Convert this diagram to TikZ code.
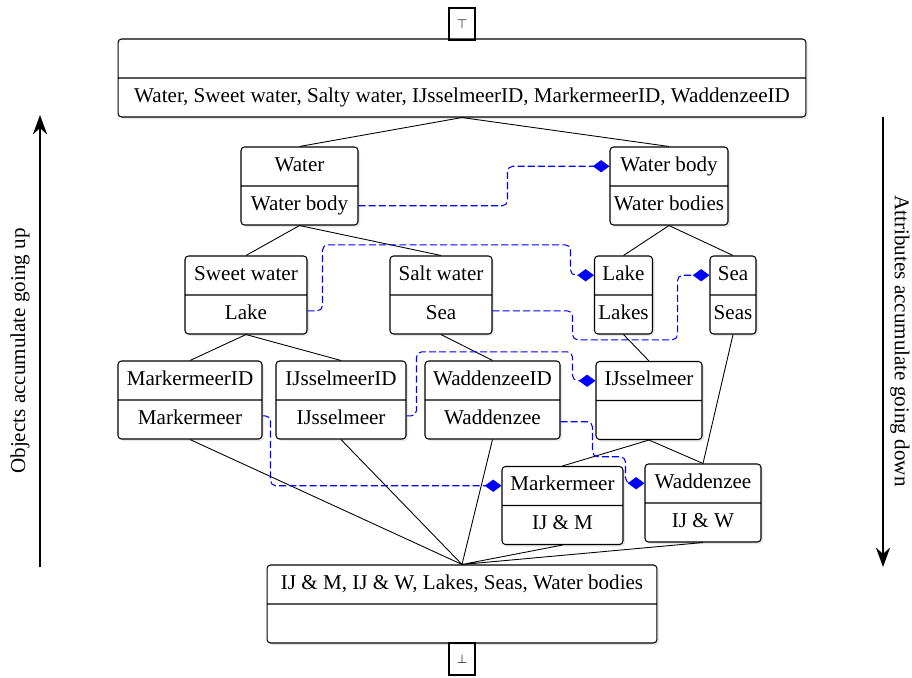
\documentclass[tikz,border=0pt]{standalone}
\usepackage{fontspec}
\setmainfont{Liberation Serif}
\usetikzlibrary{shapes.multipart, shadows, arrows.meta, calc}
\tikzset{x=0.02cm, y=-0.02cm,
  concept/.style={rectangle split, rectangle split parts=2, draw, line width=0.6pt,
    rounded corners=2pt, fill=white, inner xsep=2pt, inner ysep=3.8pt,
    drop shadow={shadow xshift=1.2pt, shadow yshift=-1.2pt, opacity=0.18}},
  bound/.style={draw, line width=0.6pt, minimum width=0.52cm, minimum height=0.64cm, inner sep=0pt},
  order/.style={line width=0.5pt},
  link/.style={blue, dash pattern=on 4pt off 1.8pt, line width=0.6pt, rounded corners=3pt,
    -{Diamond[length=9.5pt, width=7pt]}},
  axis/.style={line width=1.6pt, -{Stealth[length=11pt, width=8pt]}}}

\begin{document}
\begin{tikzpicture}[font=\fontsize{12}{14}\selectfont]
    \useasboundingbox (0,0) rectangle (912,677);
    % concepts
    \node[concept, minimum width=13.76cm] (top) at (462,78) {\strut\nodepart{two}\strut Water, Sweet water, Salty water, IJsselmeerID, MarkermeerID, WaddenzeeID};
    \node[concept, minimum width=2.34cm] (water) at (299.5,186) {\strut Water\nodepart{two}\strut Water body};
    \node[concept, minimum width=2.36cm] (wbody) at (669,186) {\strut Water body\nodepart{two}\strut Water bodies};
    \node[concept, minimum width=2.44cm] (sweet) at (246,295) {\strut Sweet water\nodepart{two}\strut Lake};
    \node[concept, minimum width=2.04cm] (salt) at (441,295) {\strut Salt water\nodepart{two}\strut Sea};
    \node[concept, minimum width=1.16cm] (lake) at (623.5,295) {\strut Lake\nodepart{two}\strut Lakes};
    \node[concept, minimum width=0.92cm] (sea) at (733,295) {\strut Sea\nodepart{two}\strut Seas};
    \node[concept, minimum width=2.88cm] (mid) at (190,400) {\strut MarkermeerID\nodepart{two}\strut Markermeer};
    \node[concept, minimum width=2.60cm] (iid) at (341,400) {\strut IJsselmeerID\nodepart{two}\strut IJsselmeer};
    \node[concept, minimum width=2.70cm] (wid) at (492.5,400) {\strut WaddenzeeID\nodepart{two}\strut Waddenzee};
    \node[concept, minimum width=2.12cm] (ijm) at (649,400.5) {\strut IJsselmeer\nodepart{two}\strut};
    \node[concept, minimum width=2.42cm] (mm) at (562.5,505.5) {\strut Markermeer\nodepart{two}\strut IJ \& M};
    \node[concept, minimum width=2.32cm] (wz) at (703,503) {\strut Waddenzee\nodepart{two}\strut IJ \& W};
    \node[concept, minimum width=7.80cm] (bot) at (462,604) {\strut IJ \& M, IJ \& W, Lakes, Seas, Water bodies\nodepart{two}\strut};
    \node[bound] (tmark) at (462,24) {\scriptsize$\top$};
    \node[bound] (bmark) at (462,659) {\scriptsize$\bot$};

    % order
    \draw[order] (top.south) -- (water.north) (top.south) -- (wbody.north)
          (water.south) -- (sweet.north) (water.south) -- (salt.north)
          (wbody.south) -- (lake.north) (wbody.south) -- (sea.north)
          (sweet.south) -- (mid.north) (sweet.south) -- (iid.north)
          (salt.south) -- (wid.north) (lake.south) -- (ijm.north)
          (sea.south) -- (wz.north) (ijm.south) -- (mm.north) (ijm.south) -- (wz.north)
          (mid.south) -- (bot.north) (iid.south) -- (bot.north) (wid.south) -- (bot.north)
          (mm.south) -- (bot.north) (wz.south) -- (bot.north);

    % attribute links
    \draw[link] ($(water.east)!.5!(water.south east)$) -- ++(149,0) |- ($(wbody.west)!.5!(wbody.north west)$);
    \draw[link] ($(sweet.east)!.4!(sweet.south east)$) -- ++(15,0) |- ++(248,-66) |- ($(lake.west)!.5!(lake.north west)$);
    \draw[link] ($(salt.east)!.4!(salt.south east)$) -- ++(80,0) |- ++(105,29) |- ($(sea.west)!.5!(sea.north west)$);
    \draw[link] ($(iid.east)!.4!(iid.south east)$) -- ++(10,0) |- ++(156,-64) |- ($(ijm.west)!.5!(ijm.north west)$);
    \draw[link] ($(mid.east)!.4!(mid.south east)$) -- ++(8,0) |- ($(mm.west)!.5!(mm.north west)$);
    \draw[link] ($(wid.east)!.55!(wid.south east)$) -- ++(32,0) |- ++(33,35) |- ($(wz.west)!.5!(wz.north west)$);

    % side arrows
    \coordinate (lbot) at (40,567);
    \coordinate (ltop) at (40,115);
    \coordinate (rtop) at (883,117);
    \coordinate (rbot) at (883,567);
    \draw[axis] (lbot) -- (ltop);
    \draw[axis] (rtop) -- (rbot);
    \node[rotate=90] (objs) at (20,351) {Objects accumulate going up};
    \node[rotate=-90] (atts) at (900,341) {Attributes accumulate going down};
\end{tikzpicture}
\end{document}
